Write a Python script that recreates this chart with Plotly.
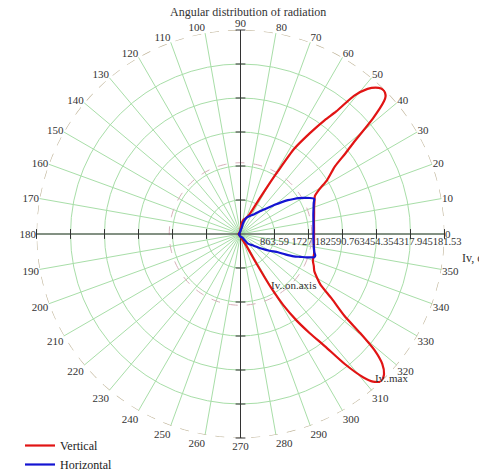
import plotly.graph_objects as go

# ---- data ----
R_MAX = 5181.53
radial_ticks = [863.59, 1727.18, 2590.76, 3454.35, 4317.94, 5181.53]
radial_ticktext = ["863.59", "1727.18", "2590.76", "3454.35", "4317.94", "5181.53"]
angle_ticks = list(range(0, 360, 10))
angle_ticktext = [str(a) for a in angle_ticks]
iv_on_axis = 1810

vertical_theta = [180, 120, 100, 90, 85, 78, 72, 68, 65.3, 63.5, 62.2, 61.2, 60.3, 59.2, 57.8, 55.5,
                  53.5, 52, 50.6, 48.8, 47.3, 46, 45, 44.3, 43.5, 42.8, 41.1, 39, 37.5, 35.6, 32, 29.5,
                  27, 23, 20, 15, 10, 5, 0, -5, -10, -15, -20.3, -23.5, -26.7, -30, -32.4, -35.3,
                  -38.2, -39.6, -40.9, -42.5, -44.3, -46.3, -48.1, -49.4, -51.3, -53, -55.1, -57,
                  -59, -60.3, -60.9, -61.7, -62.5, -64, -70, -80, -90, -100, -120, -180]
vertical_r = [50, 50, 60, 110, 250, 370, 420, 470, 547, 700, 900, 1150, 1430, 1850, 2550, 3100,
              3600, 3950, 4540, 4900, 5060, 5140, 5150, 5130, 5080, 4970, 4460, 3704, 3350, 2950, 2600, 2300,
              2120, 2040, 1990, 1935, 1895, 1875, 1868, 1875, 1895, 1935, 1960, 2030, 2098, 2250, 2410, 2840,
              3357, 3945, 4503, 4884, 5094, 5181.53, 5037, 4799, 4223, 3582, 3064, 2631,
              2100, 1600, 1250, 823, 520, 300, 170, 90, 60, 50, 50, 50]

horizontal_theta = [180, 120, 90, 85, 79, 76.5, 70, 63.2, 56, 50.4, 43.4, 40.5, 37.9, 35.5, 33.3,
                    31.5, 29.9, 27.5, 25.4, 23, 20, 15, 12.5, 5, 0, -5, -10, -13.9, -16.1, -17.5,
                    -19.5, -21, -22.8, -24.5, -25.9, -30, -34.3, -43, -52.3, -55.5, -60, -70, -90,
                    -120, -180]
horizontal_r = [40, 40, 80, 120, 152, 288, 437, 508, 600, 737, 979, 1140, 1307, 1480, 1620,
                1740, 1840, 1980, 2075, 2020, 1975, 1915, 1896, 1860, 1851, 1860, 1890, 1931, 1977, 1961,
                1777, 1620, 1469, 1250, 1059, 850, 664, 422, 307, 191, 120, 80, 70,
                40, 40]

SERIF = "Liberation Serif, Times New Roman, serif"
GRID = "rgb(168,222,168)"
AXIS = "#333333"
TXT = "#333333"

fig = go.Figure()

# dashed reference circles
circle_theta = list(range(0, 361, 2))
fig.add_trace(go.Scatterpolar(r=[iv_on_axis] * len(circle_theta), theta=circle_theta, mode="lines",
                              line=dict(color="rgb(215,175,185)", width=1, dash="dash"),
                              showlegend=False, hoverinfo="skip"))
fig.add_trace(go.Scatterpolar(r=[R_MAX] * len(circle_theta), theta=circle_theta, mode="lines",
                              line=dict(color="rgb(190,178,150)", width=1.2, dash="dash"),
                              showlegend=False, hoverinfo="skip"))

# black cross axes with tick marks
fig.add_trace(go.Scatterpolar(r=[R_MAX, 0, R_MAX], theta=[0, 0, 180], mode="lines",
                              line=dict(color=AXIS, width=1), showlegend=False, hoverinfo="skip"))
fig.add_trace(go.Scatterpolar(r=[R_MAX, 0, R_MAX], theta=[90, 90, 270], mode="lines",
                              line=dict(color=AXIS, width=1), showlegend=False, hoverinfo="skip"))
fig.add_trace(go.Scatterpolar(r=radial_ticks * 2, theta=[0] * 6 + [180] * 6, mode="markers",
                              marker=dict(symbol="line-ns", size=7, line=dict(color=AXIS, width=1)),
                              showlegend=False, hoverinfo="skip"))
fig.add_trace(go.Scatterpolar(r=radial_ticks * 2, theta=[90] * 6 + [270] * 6, mode="markers",
                              marker=dict(symbol="line-ew", size=7, line=dict(color=AXIS, width=1)),
                              showlegend=False, hoverinfo="skip"))

fig.add_trace(go.Scatterpolar(r=vertical_r, theta=vertical_theta, mode="lines", name="Vertical",
                              line=dict(color="rgb(225,20,20)", width=2.2, shape="spline", smoothing=0.6)))
fig.add_trace(go.Scatterpolar(r=horizontal_r, theta=horizontal_theta, mode="lines", name="Horizontal",
                              line=dict(color="rgb(20,20,210)", width=2.2, shape="spline", smoothing=0.6)))

OFF = 8  # page body margin
W, H = 479, 463
cx, cy, rad = 240.5 - OFF, 234 - OFF, 204


def px(x, y):
    return (x - OFF) / W, 1 - (y - OFF) / H


def ann(text, x, y, size=11, xanchor="center"):
    ax, ay = px(x, y)
    return dict(text=text, x=ax, y=ay, xref="paper", yref="paper", xanchor=xanchor, yanchor="middle",
                showarrow=False, font=dict(family=SERIF, size=size, color=TXT))


lx, _ = px(20, 471)
fig.update_layout(
    width=W, height=H,
    margin=dict(l=0, r=0, t=0, b=0, autoexpand=False),
    paper_bgcolor="white",
    font=dict(family=SERIF, color=TXT, size=11),
    polar=dict(
        domain=dict(x=[(cx - rad) / W, (cx + rad) / W], y=[(H - cy - rad) / H, (H - cy + rad) / H]),
        bgcolor="white",
        radialaxis=dict(range=[0, R_MAX], tickvals=radial_ticks, ticktext=radial_ticktext,
                        showline=False, ticks="", angle=0, side="clockwise", tickangle=0,
                        gridcolor=GRID, gridwidth=1,
                        tickfont=dict(family=SERIF, size=10.5, color=TXT)),
        angularaxis=dict(tickvals=angle_ticks, ticktext=angle_ticktext, direction="counterclockwise",
                         rotation=0, showline=False, ticks="", gridcolor=GRID, gridwidth=1,
                         tickfont=dict(family=SERIF, size=11, color=TXT)),
    ),
    legend=dict(x=max(lx, 0), y=-8 / H, xanchor="left", yanchor="bottom", bgcolor="rgba(0,0,0,0)",
                itemwidth=30, font=dict(family=SERIF, size=12, color="#222222"), tracegroupgap=0),
    annotations=[
        ann("Angular distribution of radiation", 248, 12, size=12),
        ann("Iv, cd", 460, 258, size=12, xanchor="left"),
        ann("Iv..on.axis", 293, 285),
        ann("Iv..max", 391, 378),
    ],
)

fig.write_html("out.html")
